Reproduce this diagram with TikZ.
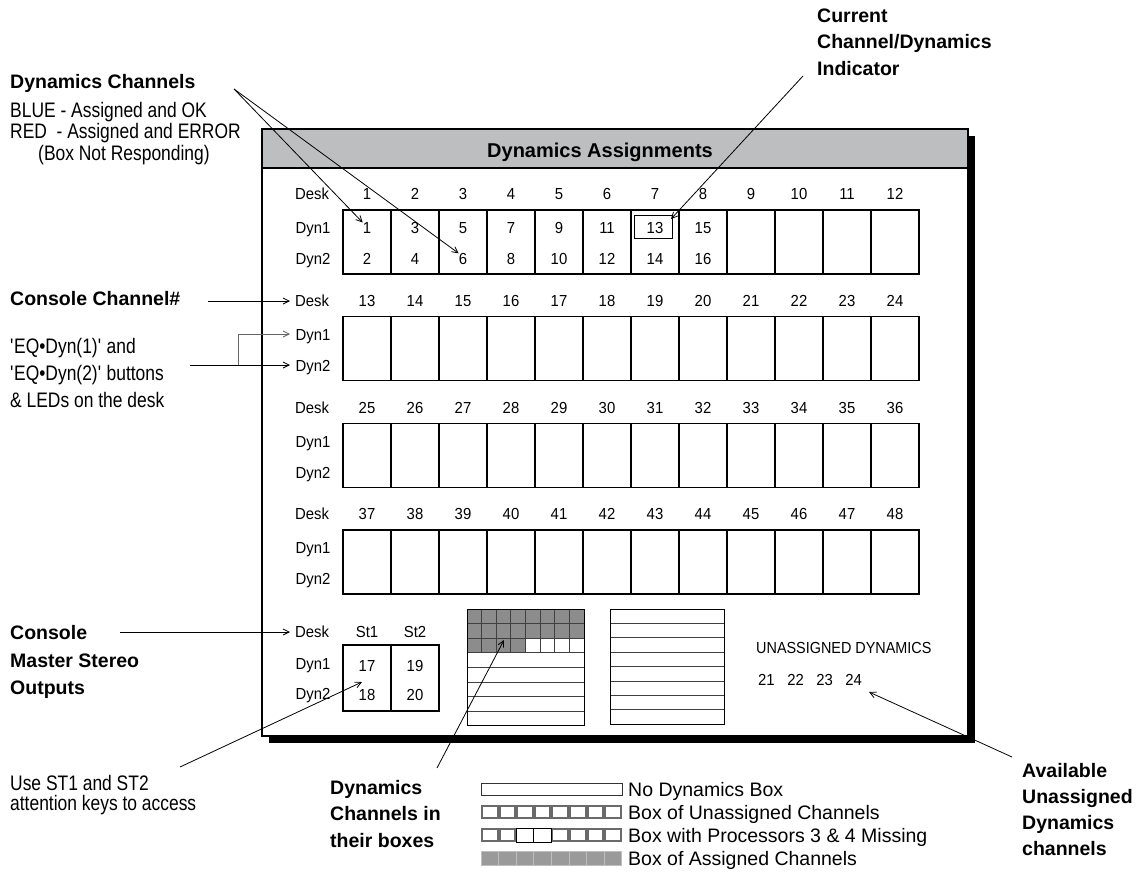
\documentclass[tikz,border=0pt]{standalone}
\usepackage{fontspec}
\setmainfont{Liberation Sans}
\newfontfamily\narrowf[FakeStretch=0.83]{Liberation Sans}
\newfontfamily\winf[FakeStretch=0.93]{Liberation Sans}
\newfontfamily\unf[FakeStretch=0.9]{Liberation Sans}
\usetikzlibrary{arrows.meta}
\definecolor{hdr}{HTML}{BDBEC0}
\definecolor{cellgray}{HTML}{8C8C8C}
\definecolor{leggray}{HTML}{6A6A6A}
\definecolor{legfill}{HTML}{9A9A9A}
\begin{document}
\begin{tikzpicture}[x=1pt,y=-1pt,
  lab/.style={font={\narrowf\fontsize{21}{23}\selectfont}, anchor=base west, inner sep=0},
  blab/.style={font={\bfseries\fontsize{19.5}{22}\selectfont}, anchor=base west, inner sep=0},
  wtxt/.style={font={\winf\fontsize{16}{18}\selectfont}, inner sep=0, anchor=base},
  leg/.style={font={\fontsize{19.5}{22}\selectfont}, anchor=base west, inner sep=0},
  conn/.style={draw=black, line width=0.8pt, -{Straight Barb[length=6pt,width=6pt]}},
  gridline/.style={draw=black, line width=1.3pt},
  cellline/.style={draw=black!75, line width=0.7pt},
]
\useasboundingbox (0,0) rectangle (1147,884);

% window with shadow
\fill[black] (269,136) rectangle (975,743);
\draw[fill=white, line width=1.3pt] (262,129) rectangle (968,736);
\draw[fill=hdr, line width=1.3pt] (262,129) rectangle (968,168);
\node[font={\bfseries\fontsize{20}{22}\selectfont}, anchor=base, inner sep=0] (title) at (600,157) {Dynamics Assignments};

% channel rows
\foreach \r in {0,1,2,3} {
  \pgfmathsetmacro\T{210+106.67*\r}
  \draw[gridline] (343,\T) rectangle (919,\T+64);
  \foreach \k in {1,...,11} \draw[gridline] (343+48*\k,\T) -- (343+48*\k,\T+64);
  \node[wtxt] (desk\r) at (312,\T-10.3) {Desk};
  \node[wtxt] (dyna\r) at (313,\T+23.7) {Dyn1};
  \node[wtxt] (dynb\r) at (313,\T+54.7) {Dyn2};
  \foreach \k in {1,...,12} {
    \pgfmathtruncatemacro\n{12*\r+\k}
    \node[wtxt] (ch\n) at (319+48*\k,\T-10.3) {\n};
  }
}
% row 1 contents
\foreach \k in {1,...,8} {
  \pgfmathtruncatemacro\a{2*\k-1}
  \pgfmathtruncatemacro\b{2*\k}
  \node[wtxt] (na\a) at (319+48*\k,233.7) {\a};
  \node[wtxt] (nb\b) at (319+48*\k,264.7) {\b};
}
\node[draw, line width=0.9pt, minimum width=38pt, minimum height=23pt, inner sep=0] (cur) at (653,226.5) {};

% stereo section
\node[wtxt] (deskS) at (312,637.7) {Desk};
\node[wtxt] (st1) at (367,637.7) {St1};
\node[wtxt] (st2) at (415,637.7) {St2};
\node[wtxt] (dynaS) at (313,669) {Dyn1};
\node[wtxt] (dynbS) at (313,699) {Dyn2};
\draw[gridline] (343,645) rectangle (439,711);
\draw[gridline] (391,645) -- (391,711);
\node[wtxt] (s17) at (367,671) {17};
\node[wtxt] (s19) at (415,671) {19};
\node[wtxt] (s18) at (367,700) {18};
\node[wtxt] (s20) at (415,700) {20};

% box of dynamics channels (assigned)
\foreach \i in {0,...,7} {
  \fill[cellgray] (467+14.6*\i,609) rectangle (467+14.6*\i+14.6,609+29.2);
}
\foreach \i in {0,...,3} {
  \fill[cellgray] (467+14.6*\i,638.2) rectangle (467+14.6*\i+14.6,652.8);
}
\foreach \i in {1,...,7} \draw[cellline] (467+14.6*\i,609) -- (467+14.6*\i,652.8);
\draw[cellline] (467,623.6) -- (584,623.6);
\draw[cellline] (467,638.2) -- (584,638.2);
\foreach \j in {3,...,7} \draw[cellline] (467,609+14.6*\j) -- (584,609+14.6*\j);
\draw[line width=1pt] (467,609) rectangle (584,725.8);

% no dynamics box
\foreach \j in {1,...,7} \draw[cellline] (610,609+14.375*\j) -- (724,609+14.375*\j);
\draw[line width=1pt] (610,609) rectangle (724,724);

% unassigned
\node[font={\unf\fontsize{16}{18}\selectfont}, inner sep=0, anchor=base west] (unlab) at (756,653.7) {UNASSIGNED DYNAMICS};
\node[wtxt, anchor=base west] (unnums) at (758,685.7) {21\hspace{12.5pt}22\hspace{12.5pt}23\hspace{12.5pt}24};

% left labels
\node[blab] (dclab) at (10,88) {Dynamics Channels};
\node[lab] (blue) at (10,117) {BLUE - Assigned and OK};
\node[lab] (red) at (10,138.5) {RED\ \ - Assigned and ERROR};
\node[lab] (nresp) at (38,160) {(Box Not Responding)};

\node[blab] (cclab) at (10,305) {Console Channel\#};
\node[lab] (eq1) at (10,353) {\textquotesingle EQ•Dyn(1)\textquotesingle{} and};
\node[lab] (eq2) at (10,380) {\textquotesingle EQ•Dyn(2)\textquotesingle{} buttons};
\node[lab] (eq3) at (10,407) {\& LEDs on the desk};

\node[blab] (cm1) at (10,639) {Console};
\node[blab] (cm2) at (10,667) {Master Stereo};
\node[blab] (cm3) at (10,694) {Outputs};

\node[lab] (use1) at (10,790) {Use ST1 and ST2};
\node[lab] (use2) at (10,810) {attention keys to access};

\node[blab] (cb1) at (330,794) {Dynamics};
\node[blab] (cb2) at (330,820) {Channels in};
\node[blab] (cb3) at (330,847) {their boxes};

\node[blab] (ci1) at (817,22) {Current};
\node[blab] (ci2) at (817,48) {Channel/Dynamics};
\node[blab] (ci3) at (817,75) {Indicator};

\node[blab] (av1) at (1022,777) {Available};
\node[blab] (av2) at (1022,803) {Unassigned};
\node[blab] (av3) at (1022,829) {Dynamics};
\node[blab] (av4) at (1022,855) {channels};

% legend
\draw[line width=0.8pt, draw=black!80] (481,783) rectangle (622,795);
\node[leg] (lg1) at (628,796) {No Dynamics Box};
\foreach \i in {0,...,7} \draw[leggray, line width=2pt] (482+17.6*\i,806) rectangle (482+17.6*\i+15.6,818);
\node[leg] (lg2) at (628,819) {Box of Unassigned Channels};
\foreach \i in {0,1,4,5,6,7} \draw[leggray, line width=2pt] (482+17.6*\i,829) rectangle (482+17.6*\i+15.6,841);
\foreach \i in {2,3} \draw[black, line width=0.7pt] (481+17.6*\i,828) rectangle (481+17.6*\i+17.6,842);
\node[leg] (lg3) at (628,842) {Box with Processors 3 \& 4 Missing};
\foreach \i in {0,...,7} \draw[fill=legfill, draw=black!25, line width=0.7pt] (481+17.6*\i,851) rectangle (481+17.6*\i+17.6,865);
\node[leg] (lg4) at (628,865) {Box of Assigned Channels};

% connector coordinates
\coordinate (dcs) at (234,89);
\coordinate (cis) at (803,76);
\coordinate (curtip) at (671,219);
\coordinate (ccs) at (208,301);
\coordinate (cct) at (290,301);
\coordinate (eqs) at (190,365);
\coordinate (eqj) at (238,365);
\coordinate (eqk) at (238,334);
\coordinate (eqt1) at (290,334);
\coordinate (eqt2) at (290,365);
\coordinate (cms) at (120,632);
\coordinate (cmt) at (290,632);
\coordinate (uss) at (180,767);
\coordinate (ust) at (362,682);
\coordinate (cbs) at (437,768);
\coordinate (cbt) at (504,640);
\coordinate (avs) at (1012,757);
\coordinate (avt) at (869,692);

% connectors
\draw[conn] (dcs) -- (na1.north west);
\draw[conn] (dcs) -- (nb6.north west);
\draw[conn] (cis) -- (curtip);
\draw[conn] (ccs) -- (cct);
\draw[conn] (eqs) -- (eqt2);
\draw[conn, draw=black!60] (eqj) -- (eqk) -- (eqt1);
\draw[conn] (cms) -- (cmt);
\draw[conn] (uss) -- (ust);
\draw[conn] (cbs) -- (cbt);
\draw[conn] (avs) -- (avt);
\end{tikzpicture}
\end{document}
